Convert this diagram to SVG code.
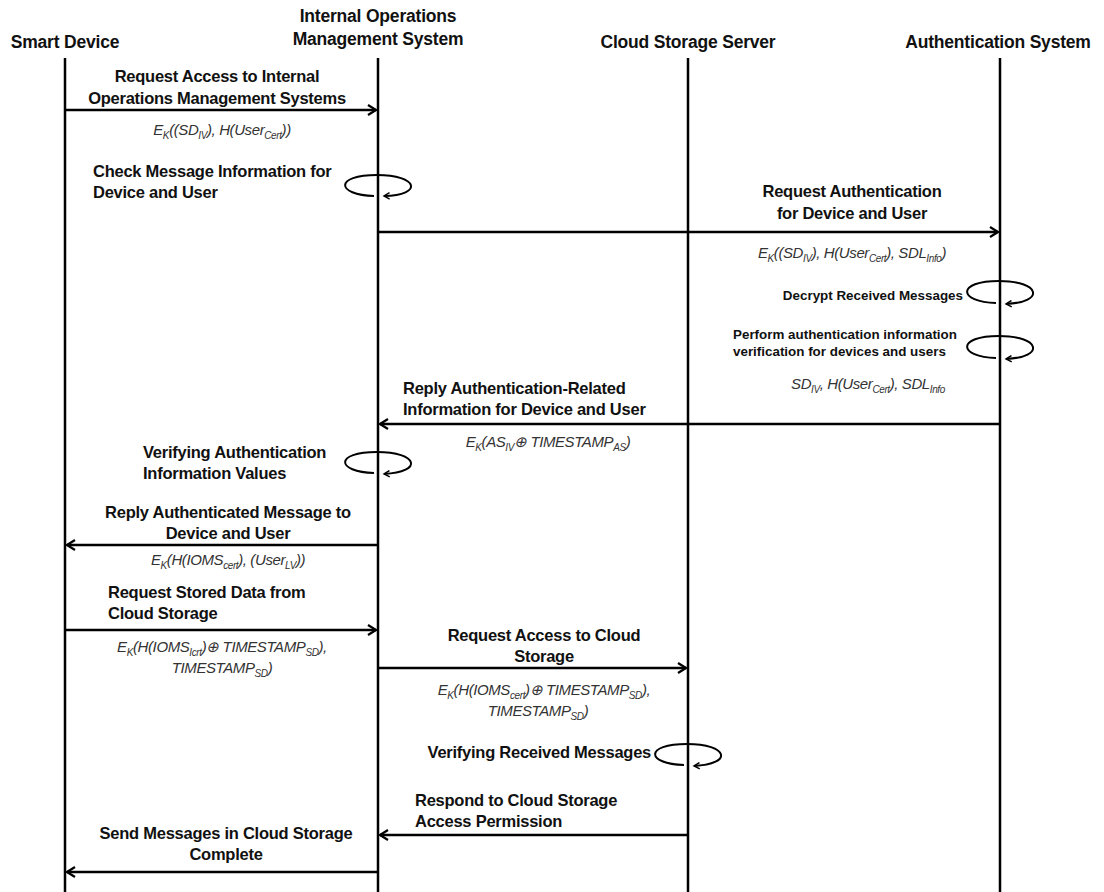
<svg xmlns="http://www.w3.org/2000/svg" width="1104" height="892" viewBox="0 0 1104 892">
<style>
.h{font-family:"Liberation Sans",Arial,sans-serif;font-weight:bold;font-size:17.5px;fill:#111;letter-spacing:-0.2px;}
.t{font-family:"Liberation Sans",Arial,sans-serif;font-weight:bold;font-size:16.5px;fill:#111;letter-spacing:-0.25px;}
.ts{font-family:"Liberation Sans",Arial,sans-serif;font-weight:bold;font-size:13.4px;fill:#111;}
.f{font-family:"Liberation Sans",Arial,sans-serif;font-style:italic;font-size:15px;fill:#333;letter-spacing:-0.4px;}
.life{stroke:#000;stroke-width:2.5;fill:none;}
.msg{stroke:#000;stroke-width:2.5;fill:none;}
.loop{stroke:#000;stroke-width:2;fill:none;}
</style>
<defs>
<marker id="ah" viewBox="0 0 10 12" refX="9" refY="6" markerWidth="10" markerHeight="12" markerUnits="userSpaceOnUse" orient="auto">
<path d="M1,1 L9,6 L1,11" fill="none" stroke="#000" stroke-width="2.2"/>
</marker>
<marker id="ahs" viewBox="0 0 10 10" refX="8" refY="5" markerWidth="8" markerHeight="8" markerUnits="userSpaceOnUse" orient="auto">
<path d="M1,1 L8,5 L1,9" fill="none" stroke="#000" stroke-width="1.8"/>
</marker>
</defs>
<rect width="1104" height="892" fill="#fff"/>

<g id="sd">
<text class="h" x="65" y="48" text-anchor="middle">Smart Device</text>
<line class="life" x1="65" y1="58" x2="65" y2="892"/>
</g>
<g id="ioms">
<text class="h" x="378" y="22" text-anchor="middle">Internal Operations</text>
<text class="h" x="378" y="45" text-anchor="middle">Management System</text>
<line class="life" x1="378" y1="58" x2="378" y2="892"/>
</g>
<g id="css">
<text class="h" x="688" y="48" text-anchor="middle">Cloud Storage Server</text>
<line class="life" x1="688" y1="58" x2="688" y2="892"/>
</g>
<g id="as">
<text class="h" x="998" y="48" text-anchor="middle">Authentication System</text>
<line class="life" x1="1000" y1="58" x2="1000" y2="892"/>
</g>

<g id="connectors">
<line class="msg" x1="65" y1="110" x2="376" y2="110" marker-end="url(#ah)"/>
<line class="msg" x1="378" y1="232" x2="998" y2="232" marker-end="url(#ah)"/>
<line class="msg" x1="1000" y1="424" x2="380" y2="424" marker-end="url(#ah)"/>
<line class="msg" x1="378" y1="545" x2="67" y2="545" marker-end="url(#ah)"/>
<line class="msg" x1="65" y1="630" x2="376" y2="630" marker-end="url(#ah)"/>
<line class="msg" x1="378" y1="668" x2="686" y2="668" marker-end="url(#ah)"/>
<line class="msg" x1="688" y1="835" x2="380" y2="835" marker-end="url(#ah)"/>
<line class="msg" x1="378" y1="872" x2="67" y2="872" marker-end="url(#ah)"/>
<!-- self loops -->
<path class="loop" d="M374,196 C336,195 334,175 377,175 C418,175 424,195 384,196" marker-end="url(#ahs)"/>
<path class="loop" d="M996,303 C958,302 956,281 999,281 C1040,281 1046,302 1006,304" marker-end="url(#ahs)"/>
<path class="loop" d="M996,358 C958,357 956,336 999,336 C1040,336 1046,357 1006,359" marker-end="url(#ahs)"/>
<path class="loop" d="M374,473 C336,472 334,452 377,452 C418,452 424,472 384,474" marker-end="url(#ahs)"/>
<path class="loop" d="M684,765 C646,764 644,744 687,744 C728,744 734,764 694,766" marker-end="url(#ahs)"/>
</g>

<g id="labels">
<text class="t" x="217" y="82" text-anchor="middle">Request Access to Internal</text>
<text class="t" x="217" y="104" text-anchor="middle">Operations Management Systems</text>
<text class="f" x="222" y="135" text-anchor="middle">E<tspan font-size="10" dy="4">K</tspan><tspan dy="-4">((SD</tspan><tspan font-size="10" dy="4">IV</tspan><tspan dy="-4">), H(User</tspan><tspan font-size="10" dy="4">Cert</tspan><tspan dy="-4">))</tspan></text>

<text class="t" x="93" y="177">Check Message Information for</text>
<text class="t" x="93" y="198">Device and User</text>

<text class="t" x="852" y="197" text-anchor="middle">Request Authentication</text>
<text class="t" x="852" y="219" text-anchor="middle">for Device and User</text>
<text class="f" x="852" y="258" text-anchor="middle">E<tspan font-size="10" dy="4">K</tspan><tspan dy="-4">((SD</tspan><tspan font-size="10" dy="4">IV</tspan><tspan dy="-4">), H(User</tspan><tspan font-size="10" dy="4">Cert</tspan><tspan dy="-4">), SDL</tspan><tspan font-size="10" dy="4">Info</tspan><tspan dy="-4">)</tspan></text>

<text class="ts" x="963" y="300" text-anchor="end">Decrypt Received Messages</text>
<text class="ts" x="733" y="339">Perform authentication information</text>
<text class="ts" x="733" y="356">verification for devices and users</text>
<text class="f" x="868" y="389" text-anchor="middle">SD<tspan font-size="10" dy="4">IV</tspan><tspan dy="-4">, H(User</tspan><tspan font-size="10" dy="4">Cert</tspan><tspan dy="-4">), SDL</tspan><tspan font-size="10" dy="4">Info</tspan></text>

<text class="t" x="403" y="394">Reply Authentication-Related</text>
<text class="t" x="403" y="415">Information for Device and User</text>
<text class="f" x="548" y="447" text-anchor="middle">E<tspan font-size="10" dy="4">K</tspan><tspan dy="-4">(AS</tspan><tspan font-size="10" dy="4">IV</tspan><tspan dy="-4">⊕ TIMESTAMP</tspan><tspan font-size="10" dy="4">AS</tspan><tspan dy="-4">)</tspan></text>

<text class="t" x="143" y="458">Verifying Authentication</text>
<text class="t" x="143" y="479">Information Values</text>

<text class="t" x="228" y="518" text-anchor="middle">Reply Authenticated Message to</text>
<text class="t" x="228" y="539" text-anchor="middle">Device and User</text>
<text class="f" x="228" y="565" text-anchor="middle">E<tspan font-size="10" dy="4">K</tspan><tspan dy="-4">(H(IOMS</tspan><tspan font-size="10" dy="4">cert</tspan><tspan dy="-4">), (User</tspan><tspan font-size="10" dy="4">LV</tspan><tspan dy="-4">))</tspan></text>

<text class="t" x="108" y="598">Request Stored Data from</text>
<text class="t" x="108" y="619">Cloud Storage</text>
<text class="f" x="222" y="652" text-anchor="middle">E<tspan font-size="10" dy="4">K</tspan><tspan dy="-4">(H(IOMS</tspan><tspan font-size="10" dy="4">Icrt</tspan><tspan dy="-4">)⊕ TIMESTAMP</tspan><tspan font-size="10" dy="4">SD</tspan><tspan dy="-4">),</tspan></text>
<text class="f" x="222" y="673" text-anchor="middle">TIMESTAMP<tspan font-size="10" dy="4">SD</tspan><tspan dy="-4">)</tspan></text>

<text class="t" x="544" y="641" text-anchor="middle">Request Access to Cloud</text>
<text class="t" x="544" y="662" text-anchor="middle">Storage</text>
<text class="f" x="544" y="695" text-anchor="middle">E<tspan font-size="10" dy="4">K</tspan><tspan dy="-4">(H(IOMS</tspan><tspan font-size="10" dy="4">cert</tspan><tspan dy="-4">)⊕ TIMESTAMP</tspan><tspan font-size="10" dy="4">SD</tspan><tspan dy="-4">),</tspan></text>
<text class="f" x="538" y="716" text-anchor="middle">TIMESTAMP<tspan font-size="10" dy="4">SD</tspan><tspan dy="-4">)</tspan></text>

<text class="t" x="651" y="758" text-anchor="end">Verifying Received Messages</text>

<text class="t" x="415" y="806">Respond to Cloud Storage</text>
<text class="t" x="415" y="827">Access Permission</text>

<text class="t" x="226" y="839" text-anchor="middle">Send Messages in Cloud Storage</text>
<text class="t" x="226" y="860" text-anchor="middle">Complete</text>
</g>
</svg>
